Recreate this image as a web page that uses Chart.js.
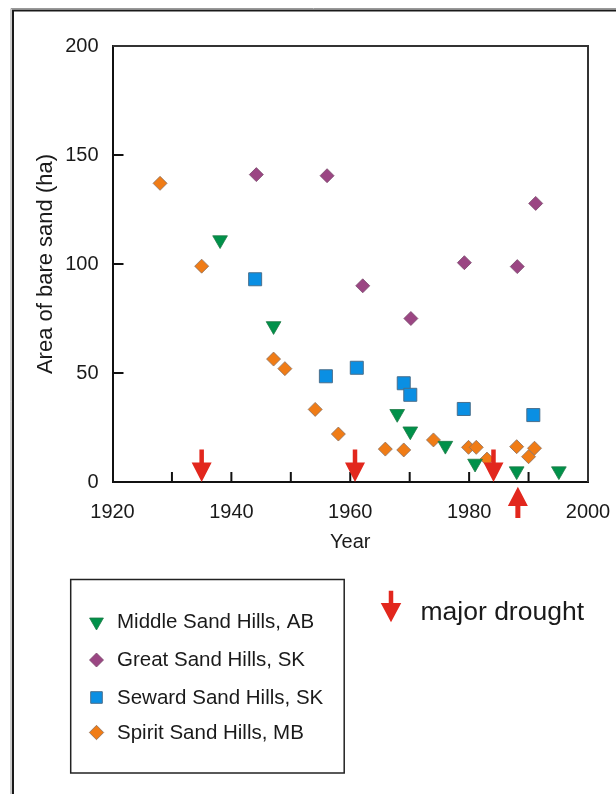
<!DOCTYPE html>
<html>
<head>
<meta charset="utf-8">
<script src="https://cdn.jsdelivr.net/npm/chart.js@4.4.1/dist/chart.umd.min.js"></script>
<style>
html, body { margin: 0; padding: 0; background: #fff; }
#wrap { position: relative; width: 616px; height: 794px; }
</style>
</head>
<body>
<div id="wrap"><canvas id="chart" width="616" height="794"></canvas></div>
<script>
// values
const middleYears = [1938.1, 1947.1, 1967.9, 1970.1, 1976, 1981, 1988, 1995.1];
const middleArea  = [111, 71.6, 31.3, 23.3, 16.7, 8.5, 5, 5];
const greatYears  = [1944.2, 1956.1, 1962.1, 1970.2, 1979.2, 1988.1, 1991.2];
const greatArea   = [141, 140.5, 90, 75, 100.6, 98.8, 127.8];
const sewardYears = [1944, 1955.9, 1961.1, 1969, 1970.1, 1979.1, 1990.8];
const sewardArea  = [93, 48.5, 52.4, 45.3, 40, 33.5, 30.7];
const spiritYears = [1928, 1935, 1947.1, 1949, 1954.1, 1958, 1965.9, 1969, 1974, 1979.9, 1981.2, 1983, 1988, 1990, 1991];
const spiritArea  = [137, 99, 56.4, 52, 33.3, 22, 15.1, 14.7, 19.3, 15.9, 15.9, 10.5, 16.2, 11.6, 15.5];
const droughtYears = [1935, 1960.8, 1984.1];
const upArrowYears = [1988.2];
const seriesNames = ['Middle Sand Hills, AB', 'Great Sand Hills, SK', 'Seward Sand Hills, SK', 'Spirit Sand Hills, MB'];

const ff = '"Liberation Sans", Arial, Helvetica, sans-serif';
const red = '#e2271d';

function pts(xs, ys) { return xs.map((x, i) => ({ x: x, y: ys[i] })); }

const datasets = [
    { label: seriesNames[0], data: pts(middleYears, middleArea), pointStyle: 'triangle', rotation: 180, pointRadius: 8.5, backgroundColor: '#00914a', borderColor: '#1d7a45', borderWidth: 0.8, legendRadius: 8 },
    { label: seriesNames[1], data: pts(greatYears, greatArea), pointStyle: 'rectRot', pointRadius: 7, backgroundColor: '#9b4683', borderColor: '#7a4a6c', borderWidth: 0.8, legendRadius: 7 },
    { label: seriesNames[2], data: pts(sewardYears, sewardArea), pointStyle: 'rect', pointRadius: 9.2, backgroundColor: '#0a8fe3', borderColor: '#4a6f8c', borderWidth: 1, legendRadius: 8.2 },
    { label: seriesNames[3], data: pts(spiritYears, spiritArea), pointStyle: 'rectRot', pointRadius: 7, backgroundColor: '#f07c16', borderColor: '#8a7060', borderWidth: 0.8, legendRadius: 7.2 }
];

function arrow(ctx, x, tipY, dir, headLen, headW, shaftLen, shaftW) {
    // dir = 1 points down, -1 points up
    const base = tipY - dir * headLen;
    ctx.beginPath();
    ctx.moveTo(x, tipY);
    ctx.lineTo(x - headW / 2, base);
    ctx.lineTo(x - shaftW / 2, base);
    ctx.lineTo(x - shaftW / 2, tipY - dir * shaftLen);
    ctx.lineTo(x + shaftW / 2, tipY - dir * shaftLen);
    ctx.lineTo(x + shaftW / 2, base);
    ctx.lineTo(x + headW / 2, base);
    ctx.closePath();
    ctx.fill();
}

const decor = {
    id: 'decor',
    beforeDraw(chart) {
        const ctx = chart.ctx;
        ctx.save();
        // outer figure frame
        ctx.strokeStyle = '#999';
        ctx.lineWidth = 1;
        ctx.beginPath();
        ctx.moveTo(11, 794); ctx.lineTo(11, 8.5); ctx.lineTo(616, 8.5);
        ctx.stroke();
        ctx.strokeStyle = '#1a1a1a';
        ctx.lineWidth = 2;
        ctx.beginPath();
        ctx.moveTo(13, 794); ctx.lineTo(13, 10.5); ctx.lineTo(616, 10.5);
        ctx.stroke();
        ctx.restore();
    },
    afterDatasetsDraw(chart) {
        const ctx = chart.ctx, xs = chart.scales.x, ys = chart.scales.y;
        const y0 = ys.getPixelForValue(0);
        ctx.save();
        // top and right frame of plot
        ctx.strokeStyle = '#333';
        ctx.lineWidth = 2;
        ctx.beginPath();
        ctx.moveTo(xs.left, ys.top); ctx.lineTo(xs.right, ys.top); ctx.lineTo(xs.right, ys.bottom);
        ctx.stroke();
        // inward ticks
        ctx.strokeStyle = '#111';
        ctx.lineWidth = 2;
        ctx.beginPath();
        xs.ticks.forEach(t => {
            if (t.value <= xs.min || t.value >= xs.max) return;
            const px = xs.getPixelForValue(t.value);
            ctx.moveTo(px, y0); ctx.lineTo(px, y0 - 10);
        });
        ys.ticks.forEach(t => {
            if (t.value <= ys.min || t.value >= ys.max) return;
            const py = ys.getPixelForValue(t.value);
            ctx.moveTo(xs.left, py); ctx.lineTo(xs.left + 11, py);
        });
        ctx.stroke();
        // drought arrows
        ctx.fillStyle = red;
        droughtYears.forEach(yr => arrow(ctx, xs.getPixelForValue(yr), y0, 1, 19.4, 20, 32.4, 4.5));
        upArrowYears.forEach(yr => arrow(ctx, xs.getPixelForValue(yr), y0 + 4.7, -1, 19.3, 20, 31.3, 5));
        ctx.restore();
    },
    afterDraw(chart) {
        const ctx = chart.ctx;
        ctx.save();
        // legend box
        ctx.strokeStyle = '#222';
        ctx.lineWidth = 1.5;
        ctx.strokeRect(70.7, 579.5, 273.5, 193.5);
        const rowY = [622, 660, 697.5, 732.5];
        chart.data.datasets.forEach((ds, i) => {
            ctx.fillStyle = ds.backgroundColor;
            ctx.strokeStyle = ds.borderColor;
            ctx.lineWidth = ds.borderWidth;
            Chart.helpers.drawPoint(ctx, { pointStyle: ds.pointStyle, rotation: ds.rotation || 0, radius: ds.legendRadius, borderWidth: ds.borderWidth }, 96.5, rowY[i]);
            ctx.fillStyle = '#1a1a1a';
            ctx.font = '20.5px ' + ff;
            ctx.textAlign = 'left';
            ctx.textBaseline = 'middle';
            ctx.fillText(ds.label, 117, rowY[i] + 0.5);
        });
        // drought key
        ctx.fillStyle = red;
        arrow(ctx, 391, 622.3, 1, 19.3, 20.5, 31.6, 4.5);
        ctx.fillStyle = '#1a1a1a';
        ctx.font = '26.5px ' + ff;
        ctx.textBaseline = 'alphabetic';
        ctx.fillText('major drought', 420.5, 620);
        ctx.restore();
    }
};

new Chart(document.getElementById('chart'), {
    type: 'scatter',
    data: { datasets: datasets },
    plugins: [decor],
    options: {
        responsive: false,
        animation: false,
        events: [],
        layout: { padding: { left: 0, top: 46, right: 28, bottom: 794 - 482 - 72 } },
        plugins: { legend: { display: false }, tooltip: { enabled: false } },
        scales: {
            x: {
                type: 'linear', min: 1920, max: 2000,
                afterFit: s => { s.height = 72; s.paddingRight = 0; s.paddingLeft = 0; },
                grid: { display: false, drawTicks: false },
                border: { display: true, color: '#111', width: 2 },
                ticks: { stepSize: 10, padding: 18, color: '#1a1a1a', font: { size: 20, family: ff }, maxRotation: 0, autoSkip: false,
                    callback: v => (v % 20 === 0 ? String(v) : '') },
                title: { display: true, text: 'Year', color: '#1a1a1a', font: { size: 20, family: ff }, padding: { top: 0, bottom: 0 } }
            },
            y: {
                min: 0, max: 200,
                afterFit: s => { s.width = 112.5; },
                grid: { display: false, drawTicks: false },
                border: { display: true, color: '#111', width: 2 },
                ticks: { stepSize: 50, padding: 14, color: '#1a1a1a', font: { size: 20, family: ff } },
                title: { display: true, text: 'Area of bare sand (ha)', color: '#1a1a1a', font: { size: 22, family: ff }, padding: { top: 33, bottom: 0 } }
            }
        }
    }
});
</script>
</body>
</html>
